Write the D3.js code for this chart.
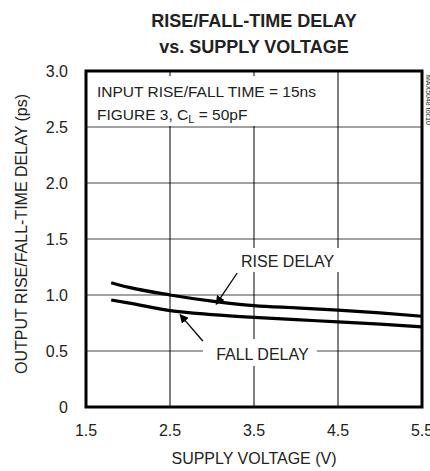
<!DOCTYPE html>
<html>
<head>
<meta charset="utf-8">
<script src="https://cdn.jsdelivr.net/npm/d3@7"></script>
<style>
body{margin:0;background:#fff;}
text{font-family:"Liberation Sans Narrow","Arial Narrow","Liberation Sans",Arial,sans-serif;fill:#222;}
</style>
</head>
<body>
<svg id="chart" width="430" height="471"></svg>
<script>
//data
var voltage=[1.8,2.0,2.5,3.0,3.5,4.0,4.5,5.0,5.5];
var riseDelay=[1.11,1.07,1.00,0.945,0.905,0.885,0.865,0.84,0.81];
var fallDelay=[0.955,0.93,0.86,0.825,0.80,0.78,0.76,0.74,0.715];
var xTicks=[1.5,2.5,3.5,4.5,5.5];
var yTicks=[0,0.5,1.0,1.5,2.0,2.5,3.0];

var svg=d3.select("#chart");
var pL=86,pR=422,pT=71,pB=407;

var x=d3.scaleLinear().domain([1.5,5.5]).range([pL,pR]);
var y=d3.scaleLinear().domain([0,3]).range([pB,pT]);

//grid
svg.append("g").selectAll("line").data(yTicks.slice(1,-1)).enter().append("line")
    .attr("x1",pL).attr("x2",pR).attr("y1",d=>y(d)).attr("y2",d=>y(d))
    .attr("stroke","#444").attr("stroke-width",1);
svg.append("g").selectAll("line").data(xTicks.slice(1,-1)).enter().append("line")
    .attr("x1",d=>x(d)).attr("x2",d=>x(d)).attr("y1",pT).attr("y2",pB)
    .attr("stroke","#000").attr("stroke-width",1);

//white boxes behind the notes
function blank(x0,y0,w,h){
    svg.append("rect").attr("x",x0).attr("y",y0).attr("width",w).attr("height",h).attr("fill","#fff");
}
blank(pL+2,76,x(3.7)-pL-2,y(2.5)-76-1);
blank(x(3.5)-10,y(1.5)+9,x(4.5)-x(3.5)+20,24);
blank(x(3.0)-9,y(0.5)-12,x(4.2)-x(3.0)+13,27);

//curves
var line=d3.line().x(d=>x(d[0])).y(d=>y(d[1])).curve(d3.curveMonotoneX);
[riseDelay,fallDelay].forEach(function(s){
    svg.append("path").datum(d3.zip(voltage,s)).attr("d",line)
        .attr("fill","none").attr("stroke","#000").attr("stroke-width",3.2);
});

//frame
svg.append("rect").attr("x",pL).attr("y",pT).attr("width",pR-pL).attr("height",pB-pT)
    .attr("fill","none").attr("stroke","#000").attr("stroke-width",3);

//ticks
svg.append("g").selectAll("text").data(yTicks).enter().append("text")
    .attr("x",pL-18).attr("y",d=>y(d)+6).attr("text-anchor","end").attr("font-size",16)
    .text(d=>d==0?"0":d.toFixed(1));
svg.append("g").selectAll("text").data(xTicks).enter().append("text")
    .attr("x",d=>x(d)).attr("y",436).attr("text-anchor","middle").attr("font-size",16)
    .text(d=>d.toFixed(1));

//titles
svg.append("text").attr("x",254).attr("y",27).attr("text-anchor","middle")
    .attr("font-size",18).attr("font-weight","bold").text("RISE/FALL-TIME DELAY");
svg.append("text").attr("x",254).attr("y",53).attr("text-anchor","middle")
    .attr("font-size",18).attr("font-weight","bold").text("vs. SUPPLY VOLTAGE");
svg.append("text").attr("x",254).attr("y",464).attr("text-anchor","middle")
    .attr("font-size",16).text("SUPPLY VOLTAGE (V)");
svg.append("text").attr("transform","translate(27,234) rotate(-90)").attr("text-anchor","middle")
    .attr("font-size",16).text("OUTPUT RISE/FALL-TIME DELAY (ps)");

//notes
svg.append("text").attr("x",97).attr("y",97).attr("font-size",15.5).text("INPUT RISE/FALL TIME = 15ns");
var n=svg.append("text").attr("x",97).attr("y",120).attr("font-size",15.5);
n.append("tspan").text("FIGURE 3, C");
n.append("tspan").attr("font-size",11).attr("dy",3).text("L");
n.append("tspan").attr("dy",-3).text(" = 50pF");

svg.append("text").attr("x",x(3.9)).attr("y",y(1.5)+28).attr("text-anchor","middle").attr("font-size",16).text("RISE DELAY");
svg.append("text").attr("x",x(3.6)).attr("y",y(0.5)+9).attr("text-anchor","middle").attr("font-size",16).text("FALL DELAY");

//arrows
svg.append("defs").append("marker").attr("id","ah").attr("viewBox","0 0 10 10")
    .attr("refX",9).attr("refY",5).attr("markerWidth",9).attr("markerHeight",9)
    .attr("markerUnits","userSpaceOnUse").attr("orient","auto")
    .append("path").attr("d","M0,0L10,5L0,10z").attr("fill","#000");
function arrow(x1,y1,x2,y2){
    svg.append("line").attr("x1",x1).attr("y1",y1).attr("x2",x2).attr("y2",y2)
        .attr("stroke","#000").attr("stroke-width",1.3).attr("marker-end","url(#ah)");
}
arrow(x(3.3),y(1.5)+34,x(3.05),y(riseDelay[3])+3);
arrow(x(2.89),y(0.5)-10,x(2.62),y(fallDelay[2])+4);

//side code
svg.append("text").attr("transform","translate(426,75) rotate(90)").attr("font-size",7)
    .attr("fill","#555").text("MAX5048 toc10");
</script>
</body>
</html>
